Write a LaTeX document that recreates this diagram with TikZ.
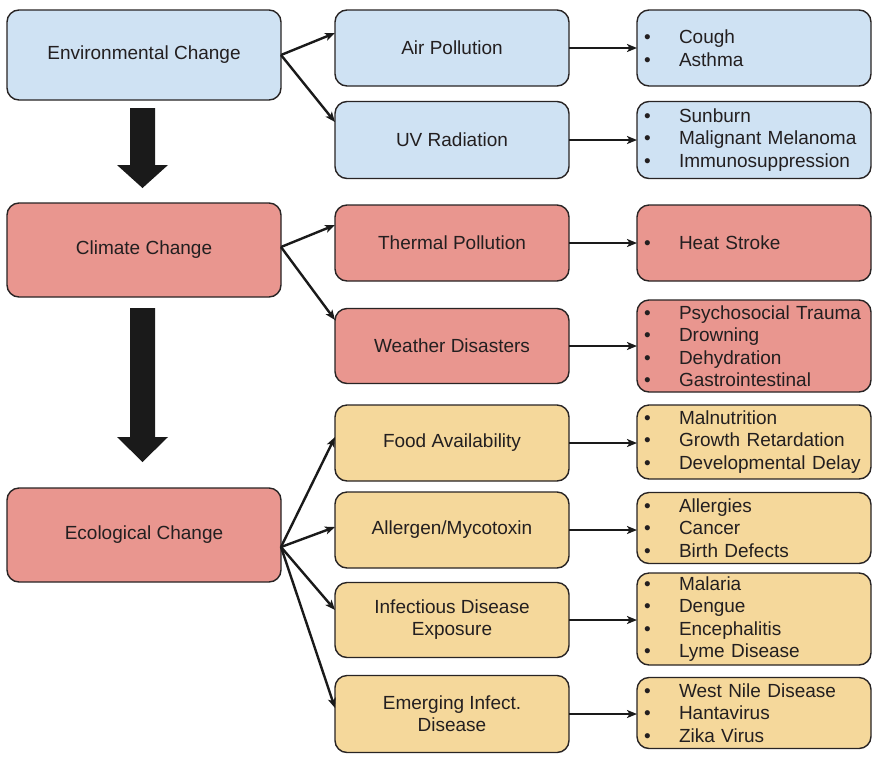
\documentclass[tikz,border=0pt]{standalone}
\usepackage{fontspec}
\setmainfont{Liberation Sans}
\usetikzlibrary{arrows.meta}
\definecolor{cblue}{RGB}{207,226,243}
\definecolor{cred}{RGB}{233,150,143}
\definecolor{cyel}{RGB}{245,216,155}
\definecolor{cline}{RGB}{40,36,36}
\definecolor{ctext}{RGB}{35,31,32}
\definecolor{cbig}{RGB}{26,26,26}
\newcommand{\bl}[1]{\makebox[35pt][l]{\textbullet}#1}
\begin{document}
\begin{tikzpicture}[x=1pt,y=-1pt,
  box/.style={draw=cline,line width=1.4pt,rounded corners=12pt,inner sep=0pt,outer sep=0pt,
    text=ctext,font=\fontsize{19}{22}\selectfont,align=center},
  c1/.style={box,minimum width=274pt},
  c2/.style={box,minimum width=234pt},
  lst/.style={box,minimum width=234pt,text width=220pt,inner xsep=7pt,align=left,
    font=\fontsize{19}{22.5}\selectfont},
  arr/.style={line width=2.4pt,draw=cbig,-{Stealth[length=10pt,width=8pt,inset=2.5pt]}},
  big/.style={fill=cbig,draw=none}]
\path[use as bounding box,fill=white] (0,0) rectangle (878,756);

% column 1
\node[c1,fill=cblue,minimum height=90pt] (env) at (144,55) {Environmental Change};
\node[c1,fill=cred,minimum height=94pt] (clim) at (144,250) {Climate Change};
\node[c1,fill=cred,minimum height=94pt] (eco) at (144,535) {Ecological Change};

% column 2
\node[c2,fill=cblue,minimum height=76pt] (air) at (452,48) {Air Pollution};
\node[c2,fill=cblue,minimum height=77pt] (uv) at (452,140) {UV Radiation};
\node[c2,fill=cred,minimum height=76pt] (therm) at (452,243) {Thermal Pollution};
\node[c2,fill=cred,minimum height=75pt] (weath) at (452,346) {Weather Disasters};
\node[c2,fill=cyel,minimum height=76pt] (food) at (452,443) {Food Availability};
\node[c2,fill=cyel,minimum height=76pt] (allg) at (452,530) {Allergen/Mycotoxin};
\node[c2,fill=cyel,minimum height=75pt] (inf) at (452,620) {Infectious Disease\\Exposure};
\node[c2,fill=cyel,minimum height=77pt] (emer) at (452,714) {Emerging Infect.\\Disease};

% column 3
\node[lst,fill=cblue,minimum height=76pt] (l1) at (754,48) {\bl{Cough}\\\bl{Asthma}};
\node[lst,fill=cblue,minimum height=77pt] (l2) at (754,140) {\bl{Sunburn}\\\bl{Malignant Melanoma}\\\bl{Immunosuppression}};
\node[lst,fill=cred,minimum height=76pt] (l3) at (754,243) {\bl{Heat Stroke}};
\node[lst,fill=cred,minimum height=92pt] (l4) at (754,346) {\bl{Psychosocial Trauma}\\\bl{Drowning}\\\bl{Dehydration}\\\bl{Gastrointestinal}};
\node[lst,fill=cyel,minimum height=74pt] (l5) at (754,442) {\bl{Malnutrition}\\\bl{Growth Retardation}\\\bl{Developmental Delay}};
\node[lst,fill=cyel,minimum height=71pt] (l6) at (754,528) {\bl{Allergies}\\\bl{Cancer}\\\bl{Birth Defects}};
\node[lst,fill=cyel,minimum height=92pt] (l7) at (754,619) {\bl{Malaria}\\\bl{Dengue}\\\bl{Encephalitis}\\\bl{Lyme Disease}};
\node[lst,fill=cyel,minimum height=71pt] (l8) at (754,713) {\bl{West Nile Disease}\\\bl{Hantavirus}\\\bl{Zika Virus}};

% branching arrows
\draw[arr] (env.east) -- ([yshift=15pt]air.west);
\draw[arr] (env.east) -- ([yshift=18pt]uv.west);
\draw[arr] ([yshift=3pt]clim.east) -- ([yshift=18pt]therm.west);
\draw[arr] ([yshift=3pt]clim.east) -- ([yshift=26pt]weath.west);
\coordinate (es) at ([yshift=-12pt]eco.east);
\draw[arr] (es) -- ([yshift=6pt]food.west);
\draw[arr] (es) -- ([yshift=3pt]allg.west);
\draw[arr] (es) -- ([yshift=10pt]inf.west);
\draw[arr] (es) -- ([yshift=6pt]emer.west);

% horizontal arrows
\draw[arr] (air.east) -- (air.east -| l1.west);
\draw[arr] (uv.east) -- (uv.east -| l2.west);
\draw[arr] (therm.east) -- (therm.east -| l3.west);
\draw[arr] (weath.east) -- (weath.east -| l4.west);
\draw[arr] (food.east) -- (food.east -| l5.west);
\draw[arr] (allg.east) -- (allg.east -| l6.west);
\draw[arr] (inf.east) -- (inf.east -| l7.west);
\draw[arr] (emer.east) -- (emer.east -| l8.west);

% big arrows
\path[big] (130,108) -- (155,108) -- (155,165) -- (168,165) -- (142.5,188) -- (117,165) -- (130,165) -- cycle;
\path[big] (130,308) -- (155,308) -- (155,437) -- (168,437) -- (142.5,462) -- (117,437) -- (130,437) -- cycle;
\end{tikzpicture}
\end{document}
